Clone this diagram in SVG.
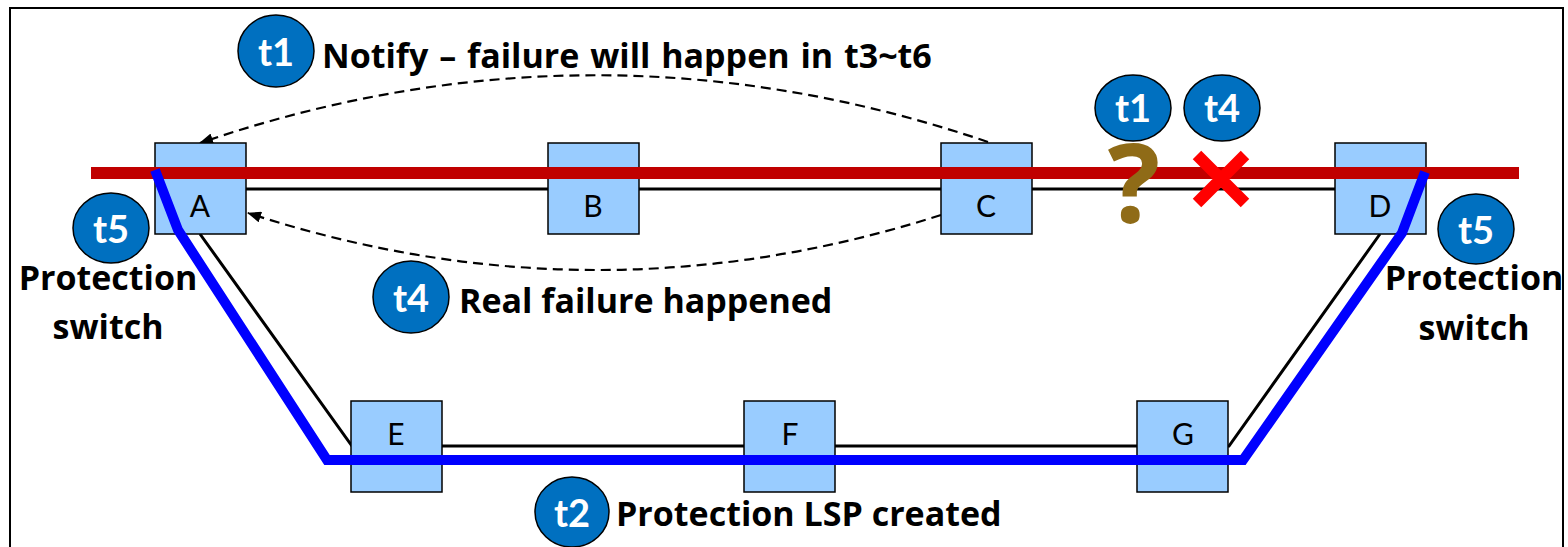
<svg xmlns="http://www.w3.org/2000/svg" width="1568" height="547" viewBox="0 0 1568 547">
<defs>
<marker id="ah" viewBox="0 0 14 11" refX="13" refY="5.5" markerWidth="14" markerHeight="11" markerUnits="userSpaceOnUse" orient="auto">
<path d="M0,0 L14,5.5 L0,11 Z" fill="#000"/>
</marker>
</defs>
<style>
.node rect{fill:#99CCFF;stroke:#000;stroke-width:1.5}
.node text{font-family:Lato,"Liberation Sans",sans-serif;font-size:30px;fill:#000;text-anchor:middle}
.badge ellipse{fill:#0070C0;stroke:#000;stroke-width:1.5}
.badge text{font-family:Lato,"Liberation Sans",sans-serif;font-weight:bold;font-size:38px;fill:#fff;text-anchor:middle}
.lbl{font-family:"Open Sans","Liberation Sans",sans-serif;font-weight:bold;font-size:34px;fill:#000}
.link{stroke:#000;stroke-width:3;fill:none}
.dash{stroke:#000;stroke-width:2.2;fill:none;stroke-dasharray:10,6;marker-end:url(#ah)}
</style>
<rect x="10" y="8" width="1553" height="560" fill="#fff" stroke="#000" stroke-width="2"/>
<g id="connectors">
<path class="link" d="M246,189 H1335"/>
<path class="link" d="M200,234 L352,446 H1229 L1380,234"/>
<path class="dash" d="M988,142 Q594,8 200,143"/>
<path class="dash" d="M941,215 Q594,326 248,213"/>
</g>
<g id="node-A" class="node"><rect x="155" y="143" width="91" height="91"/><text x="200" y="217">A</text></g>
<g id="node-B" class="node"><rect x="548" y="143" width="91" height="91"/><text x="593" y="217">B</text></g>
<g id="node-C" class="node"><rect x="941" y="143" width="91" height="91"/><text x="986" y="217">C</text></g>
<g id="node-D" class="node"><rect x="1335" y="143" width="91" height="91"/><text x="1380" y="217">D</text></g>
<g id="node-E" class="node"><rect x="351" y="401" width="91" height="91"/><text x="396" y="445">E</text></g>
<g id="node-F" class="node"><rect x="744" y="401" width="91" height="91"/><text x="790" y="445">F</text></g>
<g id="node-G" class="node"><rect x="1137" y="401" width="91" height="91"/><text x="1183" y="445">G</text></g>
<g id="working-path">
<path d="M91,173 H1519" stroke="#C00000" stroke-width="12" fill="none"/>
</g>
<g id="protection-path">
<path d="M155,170 L178,230 L327,460 H1243 L1402,233 L1425,172" stroke="#0000FF" stroke-width="10" fill="none" stroke-linejoin="miter"/>
</g>
<g id="question">
<text x="1134" y="223" font-family="'Open Sans','Liberation Sans',sans-serif" font-weight="bold" font-size="110" fill="#8F6B17" text-anchor="middle">?</text>
</g>
<g id="failure-x">
<path d="M1197,155 L1245,203 M1245,155 L1197,203" stroke="#FF0000" stroke-width="12" fill="none"/>
</g>
<g id="badge-t1-top" class="badge"><ellipse cx="276" cy="51" rx="38" ry="36"/><text x="276" y="66">t1</text></g>
<g id="badge-t1-right" class="badge"><ellipse cx="1133" cy="108" rx="38" ry="33"/><text x="1133" y="122">t1</text></g>
<g id="badge-t4-right" class="badge"><ellipse cx="1222" cy="108" rx="38" ry="33"/><text x="1222" y="122">t4</text></g>
<g id="badge-t5-left" class="badge"><ellipse cx="111" cy="228" rx="38" ry="35"/><text x="111" y="243">t5</text></g>
<g id="badge-t5-right" class="badge"><ellipse cx="1476" cy="229" rx="38" ry="35"/><text x="1476" y="244">t5</text></g>
<g id="badge-t4-mid" class="badge"><ellipse cx="411" cy="297" rx="38" ry="36"/><text x="411" y="312">t4</text></g>
<g id="badge-t2" class="badge"><ellipse cx="572" cy="512" rx="37" ry="35"/><text x="572" y="527">t2</text></g>
<g id="labels">
<text class="lbl" x="322" y="68" font-size="35" word-spacing="2">Notify – failure will happen in t3~t6</text>
<text class="lbl" x="459" y="313">Real failure happened</text>
<text class="lbl" x="616" y="526">Protection LSP created</text>
<text class="lbl" x="108" y="290" text-anchor="middle">Protection</text>
<text class="lbl" x="108" y="339" text-anchor="middle">switch</text>
<text class="lbl" x="1474" y="290" text-anchor="middle">Protection</text>
<text class="lbl" x="1474" y="340" text-anchor="middle">switch</text>
</g>
</svg>
